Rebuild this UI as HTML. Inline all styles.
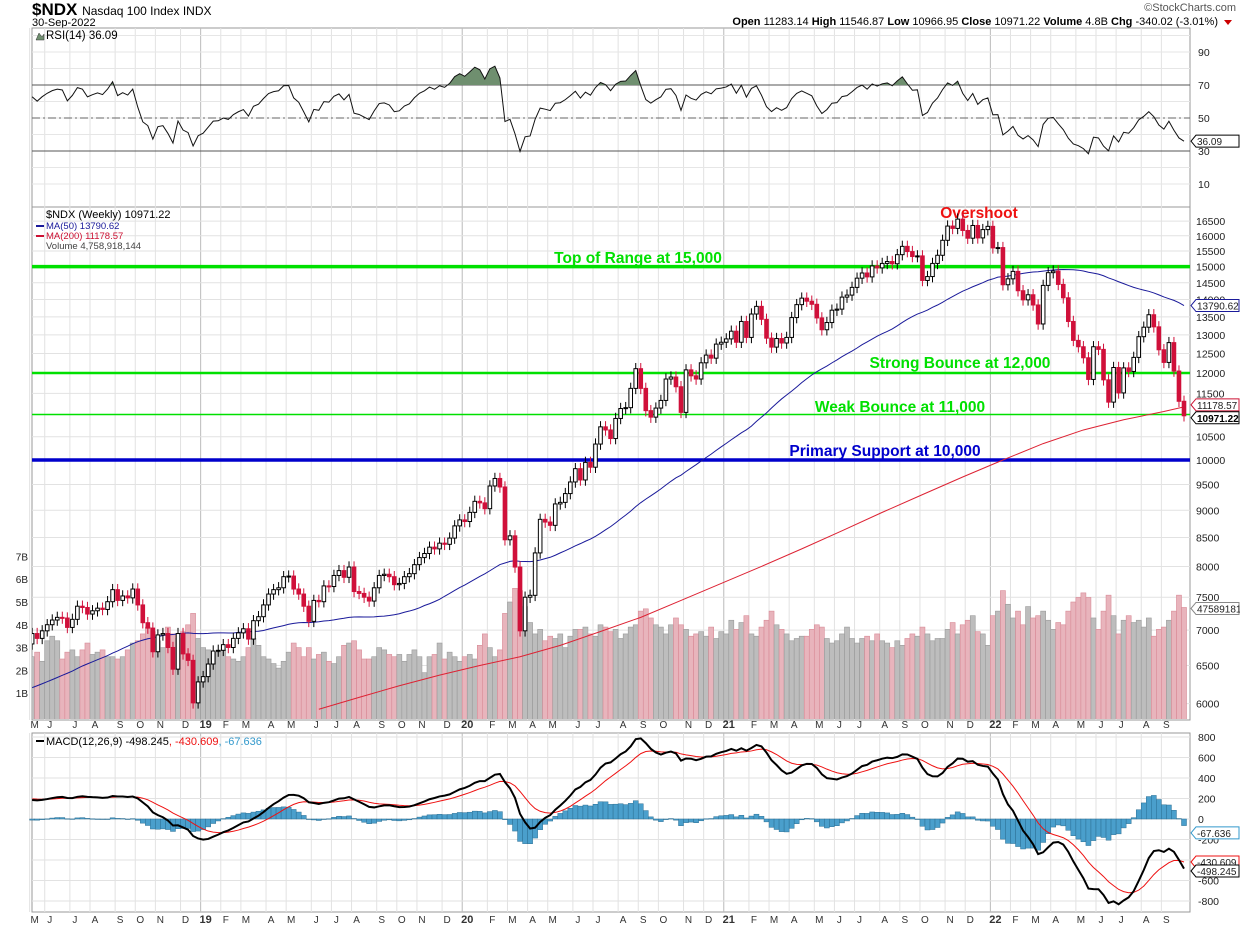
<!DOCTYPE html>
<html><head><meta charset="utf-8"><style>
body{margin:0;background:#fff;font-family:"Liberation Sans",sans-serif}
svg{display:block}
text{font-family:"Liberation Sans",sans-serif}
</style></head><body>
<svg id="chart" width="1240" height="928" viewBox="0 0 1240 928">
<rect x="0" y="0" width="1240" height="928" fill="#fff"/>
<text x="32" y="15" font-size="17" font-weight="bold">$NDX <tspan font-size="12" font-weight="normal">Nasdaq 100 Index  INDX</tspan></text>
<text x="32" y="26" font-size="11">30-Sep-2022</text>
<text x="1236" y="11" font-size="11" fill="#555" text-anchor="end">©StockCharts.com</text>
<text x="1218" y="25" font-size="11" text-anchor="end"><tspan font-weight="bold">Open</tspan> 11283.14  <tspan font-weight="bold">High</tspan> 11546.87  <tspan font-weight="bold">Low</tspan> 10966.95  <tspan font-weight="bold">Close</tspan> 10971.22  <tspan font-weight="bold">Volume</tspan> 4.8B  <tspan font-weight="bold">Chg</tspan> -340.02 (-3.01%)</text>
<path d="M1224 20 L1232 20 L1228 25 Z" fill="#c00"/>
<g id="grid"></g>
<g id="vol"></g>
<g id="levels"></g>
<g id="price"></g>
<g id="rsi"></g>
<g id="macd"></g>
<g id="axes"></g>
</svg>
<script>
const NS="http://www.w3.org/2000/svg";
// ---- data ----
const preCloses=[5650,5700,5720,5770,5800,5740,5650,5700,5580,5660,5800,5870,5900,5920,5950,5880,5920,5780,5880,5900,5930,5990,6050,6000,6100,6130,6200,6290,6330,6300,6330,6390,6410,6410,6350,6380,6600,6800,6900,6850,6500,6600,6800,6950,7050,6800,6600,6700,6800];
const closes=[
6950,6880,6990,7080,7150,7190,7180,7040,7160,7360,7340,7240,7290,7330,7310,7430,7620,7450,7520,7490,7630,7380,7110,7030,6690,6930,6950,6750,6450,6950,6660,6570,6010,6280,
6350,6520,6700,6710,6790,6750,6880,6960,7020,6870,7140,7200,7380,7550,7620,7650,7830,7840,7630,7550,7360,7130,7450,7430,7680,7670,7850,7930,7820,7990,7590,7560,7500,7440,7650,7850,7870,7830,7700,7720,7830,7880,8030,8150,8220,8330,8300,8400,8380,8490,8710,8820,
8790,8960,9170,9140,9030,9470,9620,9450,8460,8530,7990,6990,7500,7530,8230,8830,8780,8720,9120,9150,9320,9550,9820,9590,9950,9850,10340,10720,10650,10460,10910,11140,11160,11620,12110,11620,11090,10940,11150,11330,11850,11900,11660,11050,12080,11930,11850,12260,12460,12380,12750,12800,
12890,13100,12800,13370,12930,13580,13800,13430,12910,12670,12900,12780,12930,13480,13850,14040,13950,13860,13470,13140,13340,13690,13720,14070,14130,14360,14640,14800,14680,15020,14960,15100,15160,15090,15380,15650,15480,15320,15340,14570,14690,15100,15360,15850,16330,16250,16570,16180,15920,16350,15930,16210,16320,
15600,15610,14440,14620,14850,14260,13990,14140,13840,13300,14420,14810,14860,14450,14050,13370,12850,12680,12390,11840,12680,12610,11830,11290,12140,11510,12130,12040,12400,12950,13210,13560,13220,12600,12270,12790,12050,11310,10971.22];
const volumesB=[
2.6,2.8,2.4,3.3,3.5,3.3,2.5,2.8,2.9,2.6,2.9,3.2,2.7,2.8,2.9,2.6,2.6,2.5,2.6,2.9,3.2,3.3,3.6,3.9,3.7,3.3,3.0,3.9,3.6,3.4,3.7,4.0,4.5,3.4,
3.0,2.9,2.6,2.8,2.9,2.6,2.5,2.4,2.6,3.0,3.4,3.1,2.6,2.5,2.3,2.1,2.4,2.8,3.2,3.0,2.6,3.0,2.5,2.7,2.8,2.4,2.3,2.6,3.1,3.2,3.3,2.9,2.5,2.5,2.6,3.0,2.9,2.7,2.6,2.7,2.4,2.7,2.9,2.6,1.9,2.6,2.7,3.2,2.5,2.8,2.6,2.4,
2.6,2.7,2.5,3.1,3.6,3.0,2.6,2.9,4.5,5.0,5.6,5.5,4.8,4.1,3.6,3.8,3.3,3.5,3.4,3.6,3.0,3.5,3.8,3.8,3.9,3.6,3.5,4.0,3.9,3.7,3.8,3.4,3.6,3.9,4.0,4.6,4.7,4.3,4.0,3.9,3.6,4.0,4.3,4.0,3.8,3.5,3.6,3.7,3.5,3.9,3.4,3.7,
3.6,4.2,3.8,4.1,4.4,3.6,3.5,3.9,4.2,4.6,4.0,3.8,3.6,3.3,3.4,3.5,3.5,3.8,4.0,3.9,3.4,3.2,3.3,3.6,3.9,3.4,3.2,3.4,3.5,3.3,3.6,3.3,3.2,3.0,3.3,3.1,3.4,3.6,3.5,3.9,3.6,3.3,3.4,3.4,3.8,4.1,3.6,4.0,4.2,4.4,3.7,3.6,3.1,
4.4,4.6,5.5,4.9,4.3,4.6,4.0,4.8,4.3,4.4,4.6,4.2,3.8,4.1,4.0,4.6,5.0,5.2,5.4,5.2,4.3,3.8,4.6,5.3,4.4,3.6,4.2,4.4,4.1,4.2,3.9,4.3,3.5,3.8,3.9,4.2,4.6,5.3,4.76];
const ma200Weeks=[57,65,73,81,89,97,105,113,121,129,137,145,153,161,169,177,185,193,201,209,217,225,229];
const ma200Vals=[5930,6080,6230,6370,6500,6620,6780,6980,7190,7450,7720,8000,8300,8620,8960,9300,9650,10000,10350,10650,10880,11070,11178.57];
const priceTicks=[6000,6500,7000,7500,8000,8500,9000,9500,10000,10500,11000,11500,12000,12500,13000,13500,14000,14500,15000,15500,16000,16500];
const volTicks=[1,2,3,4,5,6,7];
const rsiTicks=[10,30,50,70,90];
const macdTicks=[-800,-600,-400,-200,0,200,400,600,800];
const levelVals=[15000,12000,11000,10000];
const levelLabels=["Top of Range at 15,000","Strong Bounce at 12,000","Weak Bounce at 11,000","Primary Support at 10,000"];
const monthLetters=["J","F","M","A","M","J","J","A","S","O","N","D"];

// ---- scales ----
const N=closes.length, X0=32, X1=1190;
const xs=i=>1184-(N-1-i)*5.03;
const py=v=>460-477*Math.log(v/10000);
const vy=b=>716-b*22.8;
const ry=v=>118-(v-50)*1.65;
const my=v=>819-v*0.1025;
function mk(tag,attrs,parent){const e=document.createElementNS(NS,tag);for(const k in attrs)e.setAttribute(k,attrs[k]);if(parent)parent.appendChild(e);return e;}
const G=id=>document.getElementById(id);

// ---- indicators ----
const all=preCloses.concat(closes), P=preCloses.length;
function ema(arr,n){const k=2/(n+1);const out=[];let e=arr[0];arr.forEach((v,i)=>{e=i?v*k+e*(1-k):v;out.push(e);});return out;}
const ma50=closes.map((c,i)=>{const j=i+P;let s=0;for(let t=j-49;t<=j;t++)s+=all[t];return s/50;});
const rsiAll=[];{let ag=0,al=0;for(let i=1;i<all.length;i++){const d=all[i]-all[i-1];const g=Math.max(d,0),l=Math.max(-d,0);if(i<=14){ag+=g/14;al+=l/14;}else{ag=(ag*13+g)/14;al=(al*13+l)/14;}rsiAll[i]=al===0?100:100-100/(1+ag/al);}}
const rsi=closes.map((c,i)=>rsiAll[i+P]);
const e12=ema(all,12),e26=ema(all,26);
const macdAll=all.map((v,i)=>e12[i]-e26[i]);
const sigAll=ema(macdAll,9);
const macd=closes.map((c,i)=>macdAll[i+P]), sig=closes.map((c,i)=>sigAll[i+P]);

// ---- grid / panels ----
const grid=G('grid');
[[28,207],[207,720],[733,912]].forEach(([a,b])=>{const r=mk('rect',{x:X0,y:a,width:X1-X0,height:b-a,fill:'none',stroke:'#999'},grid);

});
const start=new Date(2018,4,11);
const monthStarts=[];
for(let i=0;i<N;i++){const d=new Date(start.getTime()+i*7*864e5);const pd=new Date(d.getTime()-7*864e5);if(i===0||d.getMonth()!==pd.getMonth())monthStarts.push({i,m:d.getMonth(),y:d.getFullYear()});}
monthStarts.forEach(ms=>{const x=xs(ms.i)-2.5;[[28,207],[207,720],[733,912]].forEach(([a,b])=>{const l=mk('line',{x1:x,x2:x,y1:a,y2:b,stroke:ms.m===0?'#bbb':'#e2e2e2'},grid);

});
[728,923].forEach(y=>{const t=mk('text',{x:x+5,y:y,'font-size':ms.m===0?11:10,'font-weight':ms.m===0?'bold':'normal','text-anchor':'middle',fill:'#333'},G('axes'));t.textContent=ms.m===0?String(ms.y).slice(2):monthLetters[ms.m];

});});
priceTicks.forEach(v=>{const y=py(v);const l=mk('line',{x1:X0,x2:X1,y1:y,y2:y,stroke:'#e2e2e2'},grid);


const t=mk('text',{x:1196,y:y+4,'font-size':10.5,fill:'#222'},G('axes'));t.textContent=v;

});
volTicks.forEach(b=>{const t=mk('text',{x:28,y:vy(b)+4,'font-size':10,'text-anchor':'end',fill:'#222'},G('axes'));t.textContent=b+'B';

});
for(let v=10;v<=100;v+=10){const l=mk('line',{x1:X0,x2:X1,y1:ry(v),y2:ry(v),stroke:'#e6e6e6'},grid);

}
rsiTicks.forEach(v=>{const t=mk('text',{x:1198,y:ry(v)+4,'font-size':10.5,fill:'#222'},G('axes'));t.textContent=v;

});
[30,70].forEach(v=>{const l=mk('line',{x1:X0,x2:X1,y1:ry(v),y2:ry(v),stroke:'#555'},grid);

});
{const l=mk('line',{x1:X0,x2:X1,y1:ry(50),y2:ry(50),stroke:'#666','stroke-dasharray':'8 3 2 3'},grid);

}
macdTicks.forEach(v=>{const l=mk('line',{x1:X0,x2:X1,y1:my(v),y2:my(v),stroke:'#e2e2e2'},grid);


if(v>-600&&v<-200)return;const t=mk('text',{x:1198,y:my(v)+4,'font-size':10.5,fill:'#222'},G('axes'));t.textContent=v;

});

// ---- clip ----
const defs=mk('defs',{},document.getElementById('chart'));
const cp=mk('clipPath',{id:'pclip'},defs);mk('rect',{x:X0,y:208,width:X1-X0,height:511},cp);
const cr=mk('clipPath',{id:'rclip'},defs);mk('rect',{x:X0,y:28,width:X1-X0,height:ry(70)-28},cr);
G('vol').setAttribute('clip-path','url(#pclip)');G('price').setAttribute('clip-path','url(#pclip)');

// ---- volume ----
volumesB.forEach((b,i)=>{const down=i>0?closes[i]<closes[i-1]:false;const r=mk('rect',{x:xs(i)-2.5,y:vy(b),width:5,height:720-vy(b),fill:down?'#e8b4bc':'#bdbdbd',stroke:down?'#d88a96':'#9a9a9a','stroke-width':0.6},G('vol'));

});

// ---- levels ----
const lvStyle=[['#00e000',3.5],['#00e000',2.5],['#00e000',1.5],['#0000cc',3.5]];
const lvText=[[638,263,'#00e000'],[960,368,'#00e000'],[900,412,'#00e000'],[885,456,'#0000cc']];
levelVals.forEach((v,k)=>{const l=mk('line',{x1:X0,x2:X1,y1:py(v),y2:py(v),stroke:lvStyle[k][0],"stroke-width":lvStyle[k][1]},G('levels'));


const t=mk('text',{x:lvText[k][0],y:lvText[k][1],'font-size':15.5,'font-weight':'bold',fill:lvText[k][2],'text-anchor':'middle'},G('levels'));t.textContent=levelLabels[k];

});
{const t=mk('text',{x:979,y:218,'font-size':15.5,'font-weight':'bold',fill:'#ee1111','text-anchor':'middle'},G('levels'));t.textContent='Overshoot';

}

// ---- moving averages ----
{const p=mk('polyline',{points:ma50.map((v,i)=>xs(i)+','+py(v)).join(' '),fill:'none',stroke:'#1a1a9a','stroke-width':1},G('price'));

}
{const p=mk('polyline',{points:ma200Vals.map((v,k)=>xs(ma200Weeks[k])+','+py(v)).join(' '),fill:'none',stroke:'#dd2233','stroke-width':1},G('price'));

}

// ---- candles ----
closes.forEach((c,i)=>{const o=i>0?closes[i-1]:preCloses[P-1];const hi=Math.max(o,c)*1.012,lo=Math.min(o,c)*0.988;const down=c<o;const col=down?'#d0103a':'#000';const x=xs(i);
const w=mk('line',{x1:x,x2:x,y1:py(hi),y2:py(lo),stroke:col,'stroke-width':1},G('price'));


const yt=py(Math.max(o,c)),yb=py(Math.min(o,c));
const r=mk('rect',{x:x-1.8,y:yt,width:3.6,height:Math.max(yb-yt,1),fill:down?col:'#fff',stroke:col,'stroke-width':1},G('price'));

});

// ---- RSI ----
{const pts=rsi.map((v,i)=>xs(i)+','+ry(v));
const a=mk('polygon',{points:xs(0)+','+ry(70)+' '+pts.join(' ')+' '+xs(N-1)+','+ry(70),fill:'#6f8f6f','clip-path':'url(#rclip)'},G('rsi'));


const l=mk('polyline',{points:pts.join(' '),fill:'none',stroke:'#111','stroke-width':1},G('rsi'));

}

// ---- MACD ----
closes.forEach((c,i)=>{const h=macd[i]-sig[i];const y=my(Math.max(h,0)),hh=Math.abs(h)*0.1025;const r=mk('rect',{x:xs(i)-2.5,y:y,width:5,height:Math.max(hh,0.5),fill:'#4a9fcc',stroke:'#2b6f94','stroke-width':0.5},G('macd'));

});
{const s=mk('polyline',{points:sig.map((v,i)=>xs(i)+','+my(v)).join(' '),fill:'none',stroke:'#ee1111','stroke-width':1},G('macd'));


const m=mk('polyline',{points:macd.map((v,i)=>xs(i)+','+my(v)).join(' '),fill:'none',stroke:'#000','stroke-width':2},G('macd'));

}

// ---- legends & value tags ----
function txt(x,y,s,attrs){const t=mk('text',Object.assign({x:x,y:y,'font-size':10.5},attrs),G('axes'));t.textContent=s;return t;}
let t;
t=txt(46,39,'RSI(14) 36.09',{'font-size':11.5});


t=txt(46,218,'$NDX (Weekly) 10971.22',{'font-size':11});


t=txt(46,229,'MA(50) 13790.62',{fill:'#1a1a9a','font-size':9.5});


t=txt(46,239,'MA(200) 11178.57',{fill:'#cc1133','font-size':9.5});


t=txt(46,249,'Volume 4,758,918,144',{fill:'#444','font-size':9.5});


t=txt(46,745,'MACD(12,26,9) -498.245',{'font-size':11});


const tsp1=mk('tspan',{fill:'#ee1111'},t);tsp1.textContent=', -430.609';
const tsp2=mk('tspan',{fill:'#3399cc'},t);tsp2.textContent=', -67.636';
mk('line',{x1:36,x2:44,y1:741,y2:741,stroke:'#000','stroke-width':2},G('axes'));
mk('line',{x1:36,x2:44,y1:226,y2:226,stroke:'#1a1a9a','stroke-width':2},G('axes'));
mk('line',{x1:36,x2:44,y1:236,y2:236,stroke:'#cc1133','stroke-width':2},G('axes'));
mk('path',{d:'M36 40 L39 33 L42 37 L44 34 L44 40 Z',fill:'#6f8f6f',stroke:'#333','stroke-width':0.5},G('axes'));
function tag(y,s,col,bold,name){const g=mk('g',{},G('axes'));


mk('path',{d:`M1191 ${y} L1196 ${y-6} L1239 ${y-6} L1239 ${y+6} L1196 ${y+6} Z`,fill:'#fff',stroke:col},g);
const tt=mk('text',{x:1197,y:y+4,'font-size':10,fill:bold?'#000':'#222','font-weight':bold?'bold':'normal'},g);tt.textContent=s;}
tag(py(ma50[N-1]),'13790.62','#1a1a9a',false,'ma50-value-tag');
tag(py(11178.57)-2,'11178.57','#cc1133',false,'ma200-value-tag');
tag(py(closes[N-1])+2,'10971.22','#000',true,'close-value-tag');
tag(ry(rsi[N-1]),'36.09','#000',false,'rsi-value-tag');
tag(vy(volumesB[N-1])+1,'47589181','#888',false,'volume-value-tag');
tag(my(-67.636)+7,'-67.636','#3399cc',false,'macd-hist-value-tag');
tag(862,'-430.609','#ee1111',false,'macd-signal-value-tag');
tag(871,'-498.245','#000',false,'macd-value-tag');
</script>
</body></html>
